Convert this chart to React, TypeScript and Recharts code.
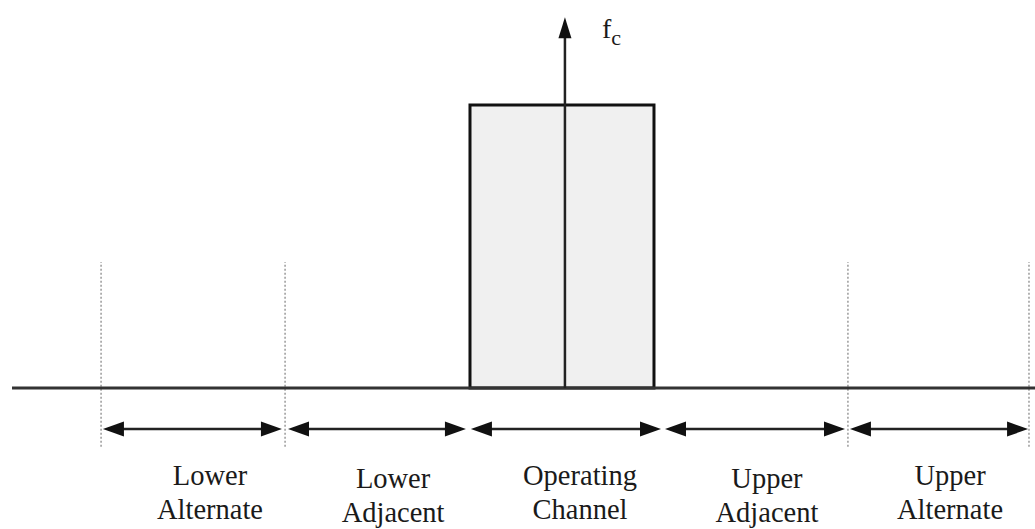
import React from "react";
import { ComposedChart, XAxis, YAxis, ReferenceArea, ReferenceLine, Scatter } from "recharts";

// Channel units: 0 = carrier, operating channel spans -0.5..0.5
const channelLines: string[][] = [
  ["Lower", "Alternate"],
  ["Lower", "Adjacent"],
  ["Operating", "Channel"],
  ["Upper", "Adjacent"],
  ["Upper", "Alternate"],
];
const labelX = [-1.913, -0.918, 0.098, 1.114, 2.109];
const labelY = [-0.343, -0.353, -0.343, -0.353, -0.343];
const arrowStart = [-2.495, -1.489, -0.495, 0.56, 1.565];
const arrowEnd = [-1.522, -0.522, 0.538, 1.538, 2.533];
const arrowLevel = -0.145;
const dividers = [-2.505, -1.505, 1.554, 2.538];
const dividerRange = [-0.208, 0.445];
const channelEdges = [-0.5, 0.5];
const channelPower = 1;
const carrierX = 0.016;
const carrierTop = 1.31;
const carrierLabel = { x: 0.217, y: 1.235, main: "f", sub: "c" };
const baselineRange = [-2.989, 2.5707];
const xDomain = [-3.0543, 2.5707];
const yDomain = [-0.4982, 1.371];

const FONT = '"Liberation Serif", "Times New Roman", serif';

const heads = [
  ...arrowStart.map((x) => ({ x, y: arrowLevel, dir: "left" })),
  ...arrowEnd.map((x) => ({ x, y: arrowLevel, dir: "right" })),
  { x: carrierX, y: carrierTop, dir: "up" },
];

const labels = labelX.map((x, i) => ({ x, y: labelY[i], lines: channelLines[i] }));

const HeadShape = (props: any) => {
  const { cx, cy, payload } = props;
  if (cx == null || cy == null) return null;
  let pts = "";
  if (payload.dir === "right") pts = `${cx},${cy} ${cx - 21},${cy - 7.5} ${cx - 21},${cy + 7.5}`;
  else if (payload.dir === "left") pts = `${cx},${cy} ${cx + 21},${cy - 7.5} ${cx + 21},${cy + 7.5}`;
  else pts = `${cx},${cy} ${cx - 6.5},${cy + 21} ${cx + 6.5},${cy + 21}`;
  return <polygon points={pts} fill="#111" stroke="none" />;
};

const LabelShape = (props: any) => {
  const { cx, cy, payload } = props;
  if (cx == null || cy == null) return null;
  return (
    <text x={cx} y={cy} textAnchor="middle" fontFamily={FONT} fontSize={28.5} fill="#1a1a1a">
      <tspan x={cx} y={cy}>{payload.lines[0]}</tspan>
      <tspan x={cx} dy={34}>{payload.lines[1]}</tspan>
    </text>
  );
};

const CarrierLabelShape = (props: any) => {
  const { cx, cy } = props;
  if (cx == null || cy == null) return null;
  return (
    <text x={cx} y={cy} textAnchor="start" fontFamily={FONT} fontSize={28} fill="#1a1a1a">
      {carrierLabel.main}
      <tspan dy={7} fontSize={22}>{carrierLabel.sub}</tspan>
    </text>
  );
};

export default function App() {
  return (
    <div style={{ position: "absolute", left: 0, top: 0, background: "#fff" }}>
      <ComposedChart width={1035} height={529} margin={{ top: 0, right: 0, bottom: 0, left: 0 }}>
        <XAxis type="number" dataKey="x" domain={xDomain} hide allowDataOverflow />
        <YAxis type="number" dataKey="y" domain={yDomain} hide allowDataOverflow />
        {dividers.map((d, i) => (
          <ReferenceLine
            key={"d" + i}
            segment={[{ x: d, y: dividerRange[0] }, { x: d, y: dividerRange[1] }]}
            stroke="#9a9a9a"
            strokeWidth={1.5}
            strokeDasharray="2 2"
          />
        ))}
        <ReferenceArea
          x1={channelEdges[0]}
          x2={channelEdges[1]}
          y1={0}
          y2={channelPower}
          fill="#f0f0f0"
          fillOpacity={1}
          stroke="#111"
          strokeWidth={3}
        />
        <ReferenceLine
          segment={[{ x: baselineRange[0], y: 0 }, { x: baselineRange[1], y: 0 }]}
          stroke="#333"
          strokeWidth={3}
        />
        <ReferenceLine
          segment={[{ x: carrierX, y: 0 }, { x: carrierX, y: carrierTop - 0.03 }]}
          stroke="#222"
          strokeWidth={2.5}
        />
        {arrowStart.map((s, i) => (
          <ReferenceLine
            key={"a" + i}
            segment={[{ x: s + 0.03, y: arrowLevel }, { x: arrowEnd[i] - 0.03, y: arrowLevel }]}
            stroke="#222"
            strokeWidth={2.5}
          />
        ))}
        <Scatter data={heads} dataKey="y" shape={HeadShape} isAnimationActive={false} />
        <Scatter data={labels} dataKey="y" shape={LabelShape} isAnimationActive={false} />
        <Scatter data={[carrierLabel]} dataKey="y" shape={CarrierLabelShape} isAnimationActive={false} />
      </ComposedChart>
    </div>
  );
}
